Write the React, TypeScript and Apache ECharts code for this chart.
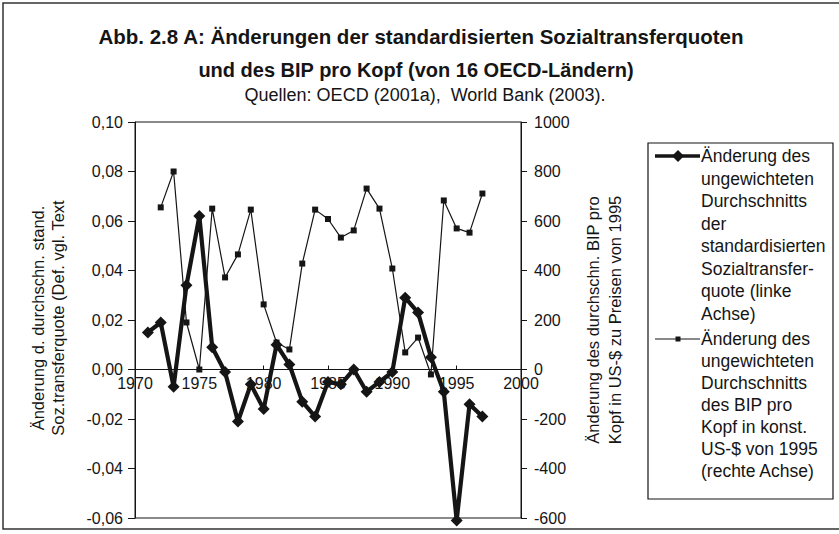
import React, { useEffect, useRef } from "react";
import * as echarts from "echarts";

const FONT = "'Liberation Sans', Arial, Helvetica, sans-serif";
const INK = "#151515";

// Thick series: change of unweighted mean standardized social transfer ratio (left axis)
const yearsTransfer = [1971, 1972, 1973, 1974, 1975, 1976, 1977, 1978, 1979, 1980, 1981, 1982, 1983, 1984, 1985, 1986, 1987, 1988, 1989, 1990, 1991, 1992, 1993, 1994, 1995, 1996, 1997];
const transferChange = [0.015, 0.019, -0.007, 0.034, 0.062, 0.009, -0.001, -0.021, -0.006, -0.016, 0.010, 0.002, -0.013, -0.019, -0.005, -0.006, 0.000, -0.009, -0.005, -0.001, 0.029, 0.023, 0.005, -0.009, -0.061, -0.014, -0.019];

// Thin series: change of unweighted mean GDP per capita, const. 1995 US-$ (right axis)
const yearsGdp = [1972, 1973, 1974, 1975, 1976, 1977, 1978, 1979, 1980, 1981, 1982, 1983, 1984, 1985, 1986, 1987, 1988, 1989, 1990, 1991, 1992, 1993, 1994, 1995, 1996, 1997];
const gdpChange = [655, 800, 190, 0, 650, 372, 465, 646, 263, 109, 81, 428, 646, 608, 533, 562, 731, 650, 408, 69, 129, -20, 683, 570, 553, 711];

const titleLines = [
  "Abb. 2.8 A: Änderungen der standardisierten Sozialtransferquoten",
  "und des BIP pro Kopf (von 16 OECD-Ländern)",
];
const subtitle = "Quellen: OECD (2001a),  World Bank (2003).";
const leftAxisName = ["Änderung d. durchschn. stand.", "Soz.transferquote (Def. vgl. Text"];
const rightAxisName = ["Änderung des durchschn. BIP pro", "Kopf in US-$ zu Preisen von 1995"];
const legend1 = ["Änderung des", "ungewichteten", "Durchschnitts", "der", "standardisierten", "Sozialtransfer-", "quote (linke", "Achse)"];
const legend2 = ["Änderung des", "ungewichteten", "Durchschnitts", "des BIP pro", "Kopf in konst.", "US-$ von 1995", "(rechte Achse)"];

export default function App() {
  const ref = useRef<HTMLDivElement>(null);
  useEffect(() => {
    if (!ref.current) return;
    const chart = echarts.init(ref.current, null, { renderer: "svg" });
    const gridL = 135, gridT = 122, gridW = 386, gridH = 396;
    const yMin = -0.06, yMax = 0.1;
    const zeroOffset = gridH * (0 - yMin) / (yMax - yMin);
    const option: any = {
      animation: false,
      backgroundColor: "#ffffff",
      textStyle: { fontFamily: FONT, color: INK },
      grid: { left: gridL, top: gridT, width: gridW, height: gridH, show: true, borderColor: INK, borderWidth: 1, backgroundColor: "transparent" },
      xAxis: {
        type: "value",
        min: 1970,
        max: 2000,
        interval: 5,
        position: "bottom",
        offset: -zeroOffset,
        axisLine: { onZero: false, lineStyle: { color: INK, width: 1 } },
        axisTick: { show: true, inside: true, length: 4, lineStyle: { color: INK } },
        axisLabel: { color: INK, fontSize: 16, fontFamily: FONT, margin: 6, formatter: (v: number) => String(v) },
        splitLine: { show: false },
      },
      yAxis: [
        {
          type: "value",
          position: "left",
          min: yMin,
          max: yMax,
          interval: 0.02,
          axisLine: { show: true, onZero: false, lineStyle: { color: INK, width: 1 } },
          axisTick: { show: true, length: 7, lineStyle: { color: INK } },
          axisLabel: { color: INK, fontSize: 16, fontFamily: FONT, margin: 12, formatter: (v: number) => v.toFixed(2).replace(".", ",").replace("-0,00", "0,00") },
          splitLine: { show: false },
        },
        {
          type: "value",
          position: "right",
          min: -600,
          max: 1000,
          interval: 200,
          axisLine: { show: true, onZero: false, lineStyle: { color: INK, width: 1 } },
          axisTick: { show: true, length: 6, lineStyle: { color: INK } },
          axisLabel: { color: INK, fontSize: 16, fontFamily: FONT, margin: 13, formatter: (v: number) => String(Math.round(v)) },
          splitLine: { show: false },
        },
      ],
      series: [
        {
          name: "BIP",
          type: "line",
          yAxisIndex: 1,
          data: yearsGdp.map((y, i) => [y, gdpChange[i]]),
          symbol: "rect",
          symbolSize: 6,
          lineStyle: { color: INK, width: 1.2 },
          itemStyle: { color: INK },
          z: 2,
        },
        {
          name: "Transfer",
          type: "line",
          yAxisIndex: 0,
          data: yearsTransfer.map((y, i) => [y, transferChange[i]]),
          symbol: "diamond",
          symbolSize: 12,
          clip: false,
          lineStyle: { color: INK, width: 4.2 },
          itemStyle: { color: INK },
          z: 3,
        },
      ],
      graphic: [
        { type: "rect", shape: { x: 3, y: 3, width: 840, height: 526 }, style: { fill: "none", stroke: "#333", lineWidth: 1.5 }, silent: true, z: 0 },
        { type: "text", x: 421, y: 36, style: { text: titleLines[0], font: `bold 20.5px ${FONT}`, fill: INK, align: "center", verticalAlign: "middle" } },
        { type: "text", x: 416, y: 70, style: { text: titleLines[1], font: `bold 20px ${FONT}`, fill: INK, align: "center", verticalAlign: "middle" } },
        { type: "text", x: 425, y: 95, style: { text: subtitle, font: `18px ${FONT}`, fill: INK, align: "center", verticalAlign: "middle" } },
        { type: "text", x: 38, y: 318, rotation: Math.PI / 2, style: { text: leftAxisName[0], font: `16.5px ${FONT}`, fill: INK, align: "center", verticalAlign: "middle" } },
        { type: "text", x: 58, y: 318, rotation: Math.PI / 2, style: { text: leftAxisName[1], font: `16.5px ${FONT}`, fill: INK, align: "center", verticalAlign: "middle" } },
        { type: "text", x: 593, y: 320, rotation: Math.PI / 2, style: { text: rightAxisName[0], font: `16.5px ${FONT}`, fill: INK, align: "center", verticalAlign: "middle" } },
        { type: "text", x: 615, y: 320, rotation: Math.PI / 2, style: { text: rightAxisName[1], font: `16.5px ${FONT}`, fill: INK, align: "center", verticalAlign: "middle" } },
        { type: "rect", shape: { x: 648, y: 143, width: 185, height: 356 }, style: { fill: "#fff", stroke: INK, lineWidth: 1.2 } },
        { type: "line", shape: { x1: 655, y1: 156, x2: 700, y2: 156 }, style: { stroke: INK, lineWidth: 3.5 } },
        { type: "polygon", shape: { points: [[678, 150], [684, 156], [678, 162], [672, 156]] }, style: { fill: INK } },
        { type: "line", shape: { x1: 655, y1: 339, x2: 700, y2: 339 }, style: { stroke: INK, lineWidth: 1.2 } },
        { type: "rect", shape: { x: 675.5, y: 336.5, width: 5, height: 5 }, style: { fill: INK } },
        { type: "text", x: 701, y: 145, style: { text: legend1.join("\n"), font: `17.5px ${FONT}`, lineHeight: 22.5, fill: INK, align: "left", verticalAlign: "top" } },
        { type: "text", x: 701, y: 328, style: { text: legend2.join("\n"), font: `17.5px ${FONT}`, lineHeight: 22, fill: INK, align: "left", verticalAlign: "top" } },
      ],
    };
    chart.setOption(option);
    return () => chart.dispose();
  }, []);
  return <div ref={ref} style={{ position: "fixed", left: 0, top: 0, width: 839, height: 534, background: "#fff" }} />;
}
